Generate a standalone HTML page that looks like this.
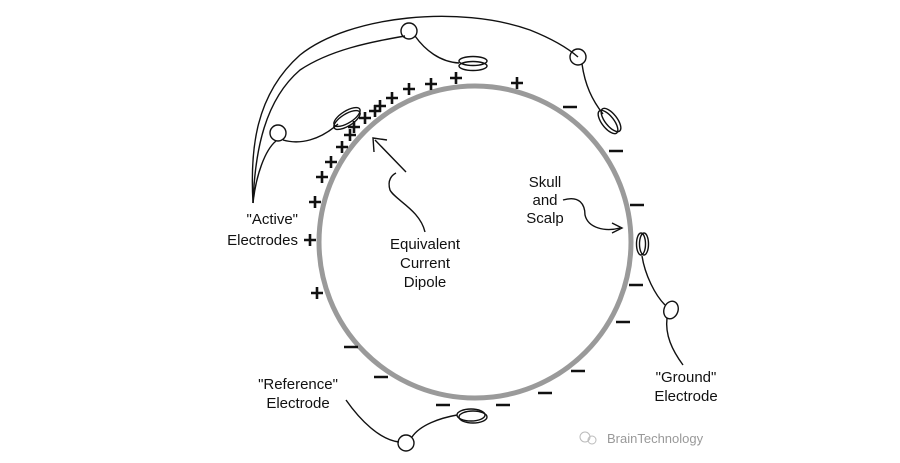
<!DOCTYPE html>
<html><head><meta charset="utf-8"><style>
html,body{margin:0;padding:0;background:#fff;width:900px;height:463px;overflow:hidden}
svg{display:block}
text{font-family:"Liberation Sans",sans-serif;font-size:15px;fill:#111}
</style></head><body>
<svg width="900" height="463" viewBox="0 0 900 463">
<defs><path id="p" d="M-6,0h12M0,-6v12" stroke="#111" stroke-width="2.6" fill="none"/></defs>
<circle cx="475" cy="242" r="156" fill="none" stroke="#9a9a9a" stroke-width="5"/>
<g fill="none" stroke="#111" stroke-width="1.4">
<path d="M253,203 C250,150 255,95 300,55 C350,15 460,5 530,30 C555,40 570,50 578,57"/>
<path d="M253,203 C255,150 265,100 300,70 C330,50 370,42 405,36"/>
<path d="M253,203 C256,175 265,150 276,141"/>
<path d="M283,140 C300,145 320,140 338,124"/>
<path d="M415,36 C425,50 440,62 459,63"/>
<path d="M582,64 C585,85 592,100 603,114"/>
<circle cx="278" cy="133" r="8"/>
<circle cx="409" cy="31" r="8"/>
<circle cx="578" cy="57" r="8"/>
<ellipse cx="347" cy="117" rx="15" ry="6" transform="rotate(-32 347 117)"/>
<ellipse cx="347" cy="120" rx="15" ry="6" transform="rotate(-32 347 120)"/>
<ellipse cx="473" cy="61" rx="14" ry="4.5"/>
<ellipse cx="473" cy="66" rx="14" ry="4.5"/>
<ellipse cx="608" cy="122" rx="14" ry="6" transform="rotate(52 608 122)"/>
<ellipse cx="611" cy="120" rx="14" ry="6" transform="rotate(52 611 120)"/>
<ellipse cx="641" cy="244" rx="4.5" ry="11"/>
<ellipse cx="644" cy="244" rx="4.5" ry="11"/>
<path d="M642,256 C645,275 655,295 665,305"/>
<ellipse cx="671" cy="310" rx="7" ry="9" transform="rotate(20 671 310)"/>
<path d="M667,318 C665,335 672,350 683,365"/>
<ellipse cx="471" cy="415" rx="14" ry="6"/>
<ellipse cx="473" cy="417" rx="14" ry="6"/>
<path d="M457,415 C440,418 420,425 412,437"/>
<circle cx="406" cy="443" r="8"/>
<path d="M346,400 C360,420 380,440 399,442"/>
<path d="M406,172 L375,140"/>
<path d="M374,152 L373,138 L387,140"/>
<path d="M425,232 C420,210 395,200 390,190 C387,180 392,175 396,173"/>
<path d="M563,200 C580,195 585,205 585,215 C588,228 605,232 620,228"/>
<path d="M612,223 L622,228 L612,233"/>
</g>
<use href="#p" x="456" y="78"/><use href="#p" x="431" y="84"/><use href="#p" x="409" y="89"/>
<use href="#p" x="392" y="98"/><use href="#p" x="380" y="106"/><use href="#p" x="375" y="111"/>
<use href="#p" x="365" y="118"/><use href="#p" x="354" y="127"/><use href="#p" x="350" y="135"/>
<use href="#p" x="342" y="147"/><use href="#p" x="331" y="162"/><use href="#p" x="322" y="177"/>
<use href="#p" x="315" y="202"/><use href="#p" x="310" y="240"/><use href="#p" x="317" y="293"/>
<use href="#p" x="517" y="83"/>
<g stroke="#111" stroke-width="2.5">
<path d="M563,107h14"/><path d="M609,151h14"/><path d="M630,205h14"/>
<path d="M629,285h14"/><path d="M616,322h14"/><path d="M344,347h14"/>
<path d="M374,377h14"/><path d="M571,371h14"/><path d="M538,393h14"/>
<path d="M496,405h14"/><path d="M436,405h14"/>
</g>
<text x="298" y="224" text-anchor="end">"Active"</text>
<text x="298" y="245" text-anchor="end">Electrodes</text>
<text x="425" y="249" text-anchor="middle">Equivalent</text>
<text x="425" y="268" text-anchor="middle">Current</text>
<text x="425" y="287" text-anchor="middle">Dipole</text>
<text x="545" y="187" text-anchor="middle">Skull</text>
<text x="545" y="205" text-anchor="middle">and</text>
<text x="545" y="223" text-anchor="middle">Scalp</text>
<text x="298" y="389" text-anchor="middle">"Reference"</text>
<text x="298" y="408" text-anchor="middle">Electrode</text>
<text x="686" y="382" text-anchor="middle">"Ground"</text>
<text x="686" y="401" text-anchor="middle">Electrode</text>
<circle cx="585" cy="437" r="5" fill="none" stroke="#bbb"/>
<circle cx="592" cy="440" r="4" fill="none" stroke="#bbb"/>
<text x="607" y="443" style="font-size:13px;fill:#999">BrainTechnology</text>
</svg>
</body></html>
